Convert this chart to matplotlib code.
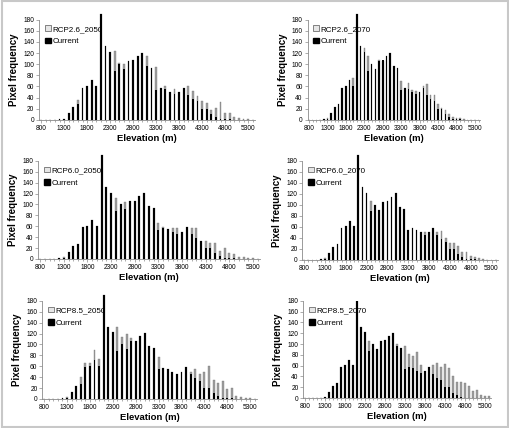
import numpy as np
import matplotlib
matplotlib.use("Agg")
import matplotlib.pyplot as plt
from matplotlib.patches import Patch, Rectangle

plt.rcParams['font.family'] = ['Liberation Sans', 'DejaVu Sans']

# elevation classes (m)
elevation = list(range(800, 5500, 100))

# current distribution (same in every panel)
current = [0, 0, 0, 0, 1, 2, 12, 23, 28, 58, 61, 71, 61, 190, 132, 122, 88, 100, 91, 106,
           107, 115, 121, 97, 93, 54, 57, 55, 50, 46, 50, 58, 45, 38, 33, 20, 20, 10, 5, 2,
           1, 1, 0, 0, 0, 0, 0]

rcp26_2050 = [0, 0, 0, 0, 1, 2, 12, 23, 36, 58, 61, 71, 61, 190, 132, 122, 123, 102, 100, 106,
              107, 115, 121, 115, 93, 95, 57, 60, 50, 55, 50, 58, 60, 51, 42, 33, 30, 18, 22, 32,
              13, 13, 5, 3, 2, 1, 0]
rcp26_2070 = [0, 0, 0, 0, 1, 3, 12, 23, 28, 58, 61, 71, 76, 190, 132, 129, 115, 100, 91, 107,
              106, 115, 121, 97, 93, 70, 57, 66, 54, 51, 50, 60, 64, 45, 44, 28, 22, 17, 10, 5,
              4, 3, 1, 0, 0, 0, 0]
rcp60_2050 = [0, 0, 0, 0, 1, 3, 12, 23, 28, 58, 61, 71, 61, 190, 132, 122, 112, 100, 104, 106,
              107, 115, 121, 97, 93, 66, 58, 55, 56, 57, 50, 58, 56, 56, 33, 33, 30, 29, 14, 20,
              11, 9, 4, 3, 2, 1, 0]
rcp60_2070 = [0, 0, 0, 0, 1, 3, 12, 23, 28, 58, 61, 71, 61, 190, 132, 122, 107, 100, 91, 106,
              107, 115, 121, 97, 93, 54, 57, 55, 50, 50, 50, 58, 50, 52, 40, 30, 30, 25, 15, 14,
              7, 5, 4, 1, 0, 0, 0]
rcp85_2050 = [0, 0, 0, 0, 1, 3, 12, 23, 40, 66, 66, 89, 73, 190, 132, 122, 132, 113, 119, 112,
              107, 115, 121, 98, 93, 77, 57, 55, 50, 46, 50, 58, 50, 55, 46, 50, 61, 35, 29, 33,
              18, 20, 6, 4, 2, 1, 0]
rcp85_2070 = [0, 0, 0, 0, 1, 2, 12, 23, 28, 58, 61, 71, 61, 190, 132, 122, 106, 100, 91, 106,
              107, 115, 121, 101, 93, 96, 81, 77, 85, 62, 50, 58, 62, 65, 57, 63, 56, 40, 30, 29,
              27, 22, 13, 15, 5, 3, 4]

labels = ['RCP2.6_2050', 'RCP2.6_2070', 'RCP6.0_2050', 'RCP6.0_2070', 'RCP8.5_2050', 'RCP8.5_2070']
futures = [rcp26_2050, rcp26_2070, rcp60_2050, rcp60_2070, rcp85_2050, rcp85_2070]

# axes boxes in figure fractions
boxes = [[0.077, 0.720, 0.423, 0.234],
         [0.603, 0.720, 0.339, 0.234],
         [0.075, 0.395, 0.435, 0.229],
         [0.593, 0.393, 0.383, 0.231],
         [0.083, 0.068, 0.421, 0.229],
         [0.595, 0.070, 0.368, 0.227]]

fig = plt.figure(figsize=(5.1, 4.28), dpi=100)
fig.patches.append(Rectangle((0.003, 0.003), 0.994, 0.994, transform=fig.transFigure,
                             fill=False, edgecolor='#c8c8c8', lw=1.5))

gray = '#a0a0a0'
for i in range(6):
    ax = fig.add_axes(boxes[i])
    clip = (i == 5)
    ax.bar(elevation, futures[i], width=42, color=gray, edgecolor='#707070', lw=0.25,
           clip_on=clip, zorder=2)
    ax.bar(elevation, current, width=42, color='black', lw=0,
           clip_on=clip, zorder=3)
    ax.set_xlim(760, 5450)
    ax.set_ylim(0, 180)
    ax.set_xticks(range(800, 5400, 500))
    ax.set_xticks(elevation, minor=True)
    ax.set_yticks(range(0, 181, 20))
    for s in ['top', 'right']:
        ax.spines[s].set_visible(False)
    for s in ['left', 'bottom']:
        ax.spines[s].set_color('#8a8a8a')
        ax.spines[s].set_linewidth(0.6)
    ax.tick_params(axis='both', which='both', direction='out', color='#8a8a8a', width=0.5)
    ax.tick_params(axis='both', which='major', length=2, labelsize=4.8, pad=1.5)
    ax.tick_params(axis='x', which='minor', length=1.5)
    ax.set_xlabel('Elevation (m)', fontsize=6.8, fontweight='bold', labelpad=1.5)
    ax.set_ylabel('Pixel frequency', fontsize=7, fontweight='bold', labelpad=3)
    handles = [Patch(facecolor='#e6e6e6', edgecolor='#555555', lw=0.5),
               Patch(facecolor='black', edgecolor='black')]
    ax.legend(handles, [labels[i], 'Current'], loc='upper left', bbox_to_anchor=(0.0, 1.0),
              frameon=False, fontsize=5.8, handlelength=0.7, handleheight=0.7,
              handletextpad=0.2, labelspacing=0.6, borderaxespad=0.3)

fig.savefig('out.png', dpi=100)
